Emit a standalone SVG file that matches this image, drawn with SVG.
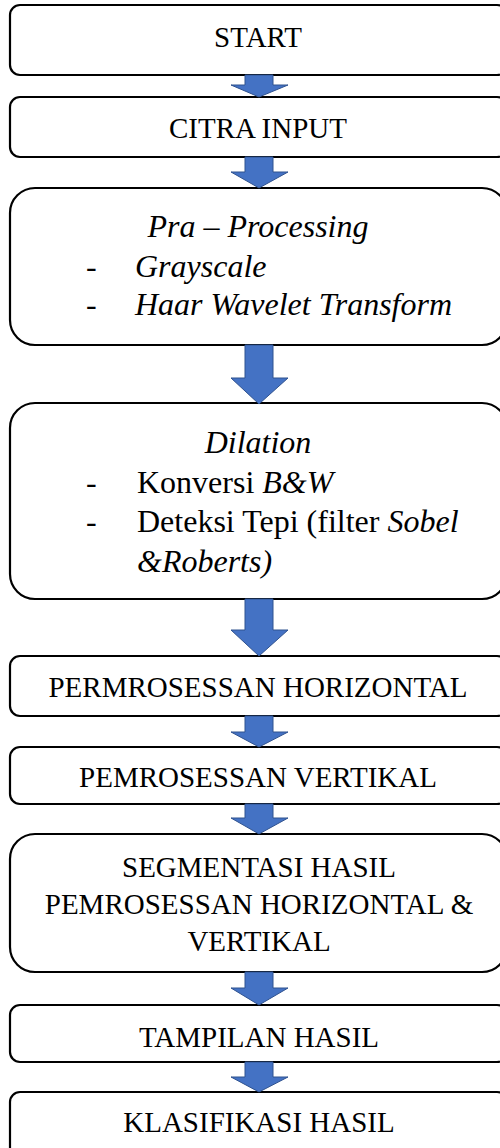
<svg xmlns="http://www.w3.org/2000/svg" width="500" height="1148" viewBox="0 0 500 1148">
<style>
.box{fill:#fff;stroke:#000;stroke-width:2.2}
.arr{fill:#4472C4;stroke:#2F528F;stroke-width:1}
text{font-family:"Liberation Serif","Times New Roman",serif;font-size:29px;fill:#000}
.l{font-size:32px}
.c{text-anchor:middle}
.i{font-style:italic}
</style>
<rect width="500" height="1148" fill="#fff"/>
<g id="n-start"><rect class="box" x="10" y="5" width="497" height="70" rx="10"/><text class="c" x="258" y="47">START</text></g>
<g id="n-citra"><rect class="box" x="10" y="97" width="497" height="60" rx="10"/><text class="c" x="258" y="138">CITRA INPUT</text></g>
<g id="n-pra"><rect class="box" x="10" y="188" width="497" height="157" rx="25"/>
<text class="c i l" x="258" y="237">Pra – Processing</text>
<text class="l" x="86" y="277">-</text><text class="i l" x="135" y="277">Grayscale</text>
<text class="l" x="86" y="315">-</text><text class="i l" x="135" y="315">Haar Wavelet Transform</text></g>
<g id="n-dilation"><rect class="box" x="10" y="403" width="497" height="196" rx="25"/>
<text class="c i l" x="258" y="453">Dilation</text>
<text class="l" x="86" y="493">-</text><text class="l" x="137" y="493">Konversi <tspan class="i">B&amp;W</tspan></text>
<text class="l" x="86" y="532">-</text><text class="l" x="137" y="532">Deteksi Tepi (filter <tspan class="i">Sobel</tspan></text>
<text class="i l" x="137" y="572">&amp;Roberts)</text></g>
<g id="n-horiz"><rect class="box" x="10" y="656" width="497" height="60" rx="10"/><text class="c" x="258" y="697">PERMROSESSAN HORIZONTAL</text></g>
<g id="n-vert"><rect class="box" x="10" y="747" width="497" height="57" rx="10"/><text class="c" x="258" y="787">PEMROSESSAN VERTIKAL</text></g>
<g id="n-seg"><rect class="box" x="10" y="834" width="497" height="138" rx="25"/>
<text class="c" x="259" y="877">SEGMENTASI HASIL</text>
<text class="c" x="259" y="914">PEMROSESSAN HORIZONTAL &amp;</text>
<text class="c" x="259" y="951">VERTIKAL</text></g>
<g id="n-tampil"><rect class="box" x="10" y="1005" width="497" height="57" rx="10"/><text class="c" x="259" y="1047">TAMPILAN HASIL</text></g>
<g id="n-klas"><rect class="box" x="10" y="1092" width="497" height="70" rx="10"/><text class="c" x="259" y="1132">KLASIFIKASI HASIL</text></g>
<g id="connectors">
<path class="arr" d="M245,75 H273 V85 H288 L259,97 L231,85 H245 Z"/>
<path class="arr" d="M245,157 H273 V172 H288 L259,188 L231,172 H245 Z"/>
<path class="arr" d="M245,345 H273 V378 H288 L259,404 L231,378 H245 Z"/>
<path class="arr" d="M245,599 H273 V630 H288 L259,656 L231,630 H245 Z"/>
<path class="arr" d="M245,716 H273 V732 H288 L259,747 L231,732 H245 Z"/>
<path class="arr" d="M245,804 H273 V818 H288 L259,834 L231,818 H245 Z"/>
<path class="arr" d="M245,972 H273 V988 H288 L259,1005 L231,988 H245 Z"/>
<path class="arr" d="M245,1062 H273 V1077 H288 L259,1092 L231,1077 H245 Z"/>
</g>
</svg>
